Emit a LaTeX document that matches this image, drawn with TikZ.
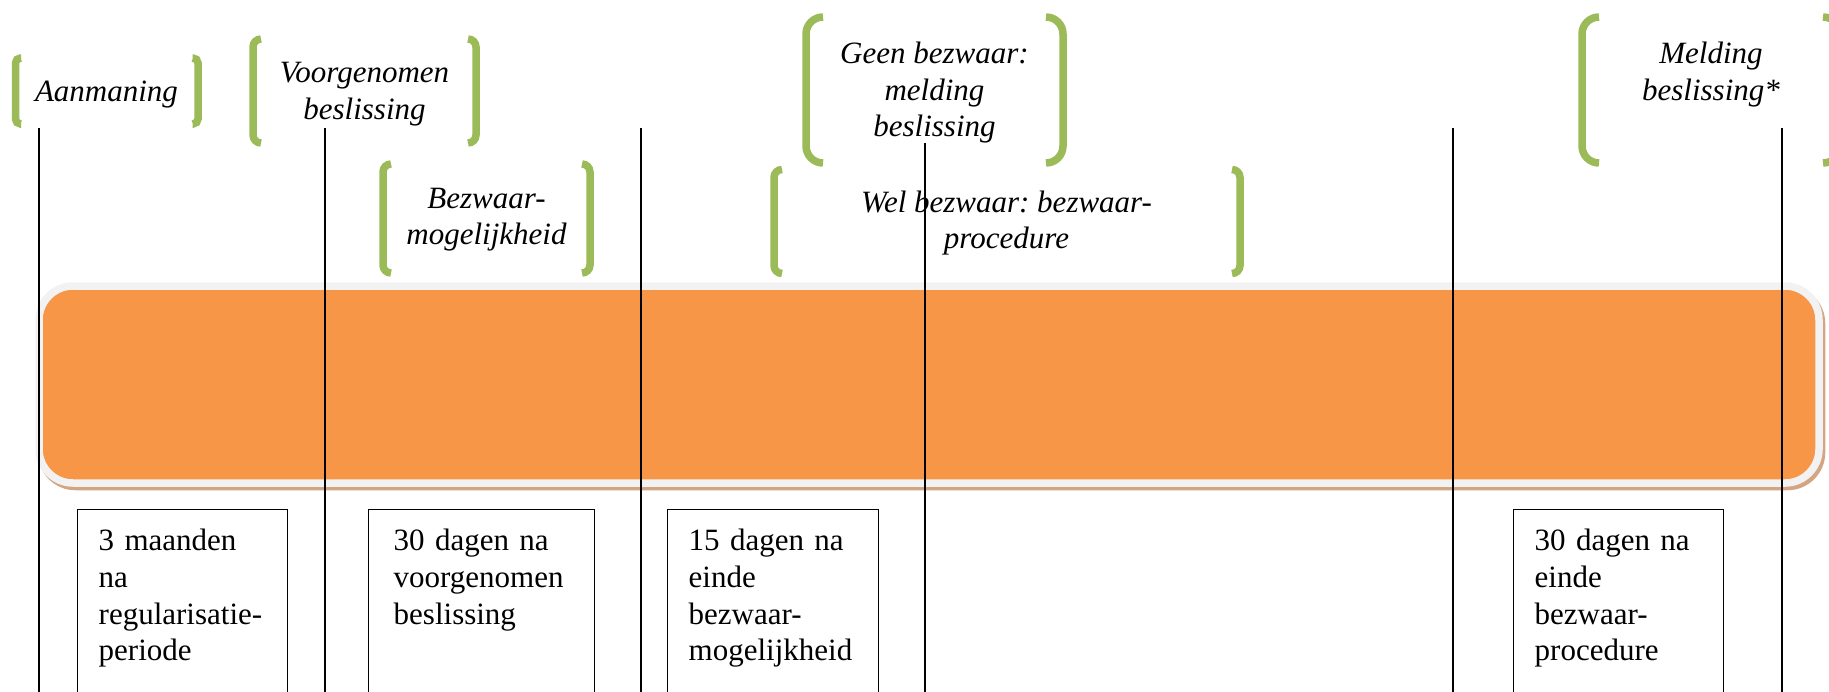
\documentclass[tikz,border=0pt]{standalone}
\usepackage{fontspec}
\setmainfont{Liberation Serif}
\usepackage{tikz}
\usetikzlibrary{shadows}
\definecolor{bracketgreen}{RGB}{155,187,89}
\definecolor{barorange}{RGB}{247,150,70}
\definecolor{barrim}{RGB}{242,242,242}
\definecolor{bartan}{RGB}{212,165,131}
\frenchspacing

\tikzset{
    bracket/.style={draw=bracketgreen, line width=7.5pt},
    steplabel/.style={font=\fontsize{31}{36.5}\selectfont\itshape, align=center, inner sep=0pt},
    daybox/.style={draw, line width=1.4pt, anchor=north west, align=left, font=\fontsize{31}{36.7}\selectfont,
        inner xsep=21pt, inner ysep=20pt, text height=21pt, text depth=200pt},
    timeline/.style={line width=1.8pt}
}

\begin{document}
\begin{tikzpicture}[x=1pt, y=-1pt]
    \useasboundingbox (0,0) rectangle (1829,691);
    \clip (0,0) rectangle (1829,691);

    % Orange bar
    \node[draw=barrim, line width=7.5pt, fill=barorange, rounded corners=34pt, minimum width=1780pt, minimum height=197pt, inner sep=0pt,
        drop shadow={shadow xshift=2.5pt, shadow yshift=-3.5pt, draw=bartan, fill=bartan, opacity=1}] (bar) at (929,384.5) {};

    % Aanmaning
    \node[steplabel] (aanmaning) at (106.5,95) {Aanmaning};
    \draw[bracket, rounded corners=5pt] (21,58) -- (15.5,58) -- (15.5,124) -- (21,124);
    \draw[bracket, rounded corners=5pt] (192.5,58) -- (198,58) -- (198,124) -- (192.5,124);

    % Voorgenomen beslissing
    \node[steplabel] (voorgenomen) at (364.5,94) {Voorgenomen\\beslissing};
    \draw[bracket, rounded corners=8pt] (261,39) -- (253,39) -- (253,143) -- (261,143);
    \draw[bracket, rounded corners=8pt] (468,39) -- (476,39) -- (476,143) -- (468,143);

    % Bezwaarmogelijkheid
    \node[steplabel] (bezwaar) at (486.5,219.5) {Bezwaar-\\mogelijkheid};
    \draw[bracket, rounded corners=8pt] (391,164) -- (383,164) -- (383,273) -- (391,273);
    \draw[bracket, rounded corners=8pt] (582,164) -- (590,164) -- (590,273) -- (582,273);

    % Geen bezwaar
    \node[steplabel] (geen) at (934.5,93) {Geen bezwaar:\\melding\\beslissing};
    \draw[bracket, rounded corners=17pt] (823,17) -- (806,17) -- (806,163) -- (823,163);
    \draw[bracket, rounded corners=17pt] (1046,17) -- (1063,17) -- (1063,163) -- (1046,163);

    % Wel bezwaar
    \node[steplabel] (wel) at (1006.5,223) {Wel bezwaar: bezwaar-\\procedure};
    \draw[bracket, rounded corners=8pt] (782,169.5) -- (774,169.5) -- (774,273.5) -- (782,273.5);
    \draw[bracket, rounded corners=8pt] (1232,169.5) -- (1240,169.5) -- (1240,273.5) -- (1232,273.5);

    % Melding beslissing
    \node[steplabel] (melding) at (1711,74.5) {Melding\\beslissing*};
    \draw[bracket, rounded corners=17pt] (1599,17) -- (1582,17) -- (1582,163) -- (1599,163);
    \draw[bracket, rounded corners=17pt] (1823,17) -- (1840,17) -- (1840,163) -- (1823,163);

    % Time lines
    \draw[timeline] (39,128) -- (39,700);
    \draw[timeline] (325,128) -- (325,700);
    \draw[timeline] (641,128) -- (641,700);
    \draw[timeline] (925,143) -- (925,700);
    \draw[timeline] (1453,128) -- (1453,700);
    \draw[timeline] (1782,128) -- (1782,700);

    % Terms
    \node[daybox, text width=168pt] (termijn1) at (77,509) {3 maanden\\na\\regularisatie-\\periode};
    \node[daybox, text width=176pt, inner xsep=25pt] (termijn2) at (368,509) {30 dagen na\\voorgenomen\\beslissing};
    \node[daybox, text width=169pt] (termijn3) at (667,509) {15 dagen na\\einde\\bezwaar-\\mogelijkheid};
    \node[daybox, text width=168pt] (termijn4) at (1513,509) {30 dagen na\\einde\\bezwaar-\\procedure};

\end{tikzpicture}
\end{document}
